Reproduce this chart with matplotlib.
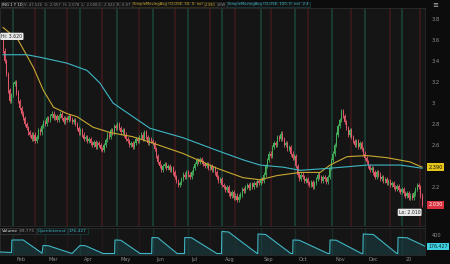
import matplotlib
matplotlib.use('Agg')
import matplotlib.pyplot as plt
import matplotlib.transforms as mtransforms
import numpy as np

# ---------------- data ----------------
first_open = 3.60
closes = [
    3.50, 3.40, 3.28, 3.12, 3.02, 3.08, 3.18, 3.20, 3.10, 3.02,
    2.95, 2.90, 2.86, 2.80, 2.76, 2.72, 2.70, 2.66, 2.70, 2.64,
    2.68, 2.74, 2.72, 2.78, 2.82, 2.80, 2.86, 2.84, 2.88, 2.90,
    2.86, 2.88, 2.84, 2.88, 2.90, 2.86, 2.82, 2.86, 2.84, 2.88,
    2.85, 2.82, 2.84, 2.80, 2.76, 2.72, 2.74, 2.70, 2.66, 2.68,
    2.64, 2.66, 2.62, 2.60, 2.63, 2.58, 2.62, 2.60, 2.56, 2.55,
    2.60, 2.65, 2.70, 2.68, 2.74, 2.72, 2.78, 2.76, 2.80, 2.76,
    2.72, 2.74, 2.70, 2.66, 2.64, 2.60, 2.62, 2.58, 2.62, 2.66,
    2.64, 2.68, 2.70, 2.66, 2.72, 2.68, 2.62, 2.66, 2.64, 2.62,
    2.56, 2.50, 2.44, 2.40, 2.36, 2.40, 2.42, 2.38, 2.40, 2.36,
    2.38, 2.34, 2.30, 2.26, 2.22, 2.24, 2.28, 2.32, 2.30, 2.34,
    2.32, 2.30, 2.34, 2.38, 2.42, 2.46, 2.44, 2.47, 2.44, 2.42,
    2.40, 2.42, 2.38, 2.40, 2.36, 2.38, 2.34, 2.30, 2.26, 2.28,
    2.22, 2.20, 2.17, 2.20, 2.14, 2.12, 2.15, 2.10, 2.12, 2.08,
    2.11, 2.13, 2.18, 2.16, 2.20, 2.22, 2.19, 2.23, 2.20, 2.24,
    2.22, 2.26, 2.24, 2.28, 2.26, 2.32, 2.40, 2.46, 2.52, 2.50,
    2.58, 2.62, 2.60, 2.68, 2.66, 2.71, 2.66, 2.60, 2.62, 2.56,
    2.58, 2.52, 2.48, 2.50, 2.40, 2.32, 2.28, 2.32, 2.30, 2.26,
    2.28, 2.24, 2.22, 2.25, 2.20, 2.24, 2.28, 2.32, 2.30, 2.26,
    2.30, 2.28, 2.25, 2.30, 2.38, 2.46, 2.52, 2.60, 2.70, 2.78,
    2.84, 2.92, 2.88, 2.82, 2.76, 2.70, 2.74, 2.68, 2.64, 2.60,
    2.64, 2.58, 2.62, 2.56, 2.52, 2.48, 2.44, 2.40, 2.36, 2.38,
    2.34, 2.30, 2.34, 2.32, 2.28, 2.30, 2.26, 2.28, 2.24, 2.26,
    2.22, 2.24, 2.20, 2.18, 2.21, 2.17, 2.15, 2.18, 2.14, 2.12,
    2.14, 2.10, 2.12, 2.10, 2.14, 2.18, 2.22, 2.20, 2.12, 2.03,
]
wick = 0.02

sma50_days = [0, 9, 18, 24, 30, 38, 44, 53.5, 63.6, 77, 87, 107, 127, 142.6,
              152.7, 162.8, 176.5, 188.4, 194.3, 204.4, 216.3, 228.2, 241.8, 249]
sma50_vals = [3.72, 3.60, 3.34, 3.12, 2.96, 2.90, 2.87, 2.77, 2.72, 2.68, 2.63, 2.52,
              2.38, 2.29, 2.27, 2.31, 2.34, 2.34, 2.41, 2.49, 2.50, 2.48, 2.44, 2.39]

sma100_days = [0, 14.3, 23.8, 38, 50, 57.6, 65.4, 77.2, 87.3, 107, 127, 142.6,
               152.7, 166.4, 176.5, 194.3, 216.3, 236, 249]
sma100_vals = [3.46, 3.46, 3.43, 3.38, 3.31, 3.19, 3.00, 2.87, 2.76, 2.67, 2.55,
               2.46, 2.41, 2.39, 2.36, 2.38, 2.41, 2.41, 2.38]

month_days = [6, 25, 46, 68, 89, 110, 130, 153, 173.5, 195.5, 215, 237]
month_labels = ['Feb', 'Mar', 'Apr', 'May', 'Jun', 'Jul', 'Aug', 'Sep', 'Oct',
                'Nov', 'Dec', '20']
expiry_days = [19, 38, 59, 81, 102, 123, 138, 159, 181, 207, 230, 248]

oi_days = [-1.8, 5.0, 5.3, 12, 23.2, 23.8, 27, 41, 45.7, 49, 59.4, 66.3, 66.5, 70,
           81.4, 88.3, 88.5, 92, 103.4, 107.8, 108, 112, 127, 129.8, 130, 134,
           151, 151.3, 151.5, 156, 171, 172.1, 172.3, 176, 193, 194.1, 194.3, 198,
           213, 213.8, 214, 220, 234, 234.5, 234.7, 240, 250.7]
oi_vals = [60, 50, 300, 300, 35, 190, 185, 30, 190, 185, 30, 30, 300, 295,
           30, 30, 350, 345, 30, 30, 350, 345, 30, 30, 470, 460,
           30, 30, 420, 410, 30, 30, 300, 295, 30, 30, 300, 295,
           30, 30, 420, 410, 30, 30, 352, 345, 176]

price_ticks = [2.0, 2.2, 2.4, 2.6, 2.8, 3.0, 3.2, 3.4, 3.6, 3.8]
hidden_ticks = [2.0, 2.4]   # covered by the price tags in the original

header_items = [
    ('ING 1 Y 1D', 'white'),
    ('V: 47,526  O: 2.057  H: 2.078', 'grey'),
    ('L: 2.008', 'grey'),
    ('C: 2.022', 'grey'),
    ('R: 0.07', 'grey'),
    ('SimpleMovingAvg (CLOSE, 50, 0, no)', 'yellow'),
    ('2.390', 'yellow'),
    ('LKW', 'grey'),
    ('SimpleMovingAvg (CLOSE, 100, 0, no)  2.4', 'cyan'),
]

# ---------------- style ----------------
BG = '#151515'
FIG_BG = '#0c0c0c'
UP = '#45b05a'
DN = '#e2586a'
YEL = '#c8a832'
CYA = '#3fb6c4'
TXT = '#8e8e8e'

W, H = 450, 264
fig = plt.figure(figsize=(W / 100, H / 100), dpi=100, facecolor=FIG_BG)


def fx(px):
    return px / W


def fy(py):
    return 1 - py / H


ax = fig.add_axes([0, fy(226), fx(425), fy(8) - fy(226)], facecolor=BG)
axv = fig.add_axes([0, fy(255), fx(425), fy(228) - fy(255)], facecolor=BG)

n = len(closes)
days = np.arange(n)
opens = [first_open] + closes[:-1]
o = np.array(opens)
c = np.array(closes)
hi = np.maximum(o, c) + wick
lo = np.minimum(o, c) - wick
up = c >= o
cols = np.where(up, UP, DN)

xmin, xmax = -1.8, 250.7
for a in (ax, axv):
    a.set_xlim(xmin, xmax)
    for sp in a.spines.values():
        sp.set_color('#2c2c2c')
        sp.set_linewidth(0.6)
    a.set_xticks([])

# vertical markers
for d in month_days:
    ax.axvline(d, color='#1d5a48', lw=1.3, alpha=0.6, zorder=1)
    axv.axvline(d, color='#1d4a40', lw=1.0, alpha=0.45, zorder=1)
for d in expiry_days:
    ax.axvline(d, color='#4a1a20', lw=1.3, alpha=0.7, zorder=1)
    axv.axvline(d, color='#3a1a1e', lw=1.0, alpha=0.45, zorder=1)

# candles
ax.vlines(days, lo, hi, colors=cols, lw=0.6, zorder=3)
body_h = np.maximum(np.abs(c - o), 0.006)
ax.bar(days, body_h, bottom=np.minimum(o, c), width=0.62, color=cols,
       linewidth=0, zorder=4)

# moving averages
ax.plot(sma50_days, sma50_vals, color=YEL, lw=0.8, zorder=5)
ax.plot(sma100_days, sma100_vals, color=CYA, lw=0.8, zorder=5)

ax.set_ylim(1.83, 3.905)
ax.yaxis.tick_right()
ax.set_yticks(price_ticks)
ax.set_yticklabels(['' if v in hidden_ticks else f'{v:g}' for v in price_ticks])
ax.tick_params(axis='y', length=0, pad=5, labelsize=3.8, labelcolor=TXT)

bt = mtransforms.blended_transform_factory(ax.transAxes, ax.transData)
ax.text(1.008, sma50_vals[-1], f'{sma50_vals[-1]:.3f}', transform=bt, fontsize=3.6,
        color='#111111', va='center', ha='left', clip_on=False, zorder=10,
        bbox=dict(boxstyle='square,pad=0.25', fc='#e6c619', ec='none'))
ax.text(1.008, closes[-1], f'{closes[-1]:.3f}', transform=bt, fontsize=3.6,
        color='white', va='center', ha='left', clip_on=False, zorder=10,
        bbox=dict(boxstyle='square,pad=0.25', fc='#d8323f', ec='none'))

# hi / lo bubbles
hi_i = int(np.argmax(hi))
lo_i = int(np.argmin(lo))
ax.text(xmin + 0.8, hi[hi_i] + 0.015, f'Hi: {hi[hi_i]:.3f}', fontsize=3.3,
        color='#222222', va='center', ha='left', zorder=10,
        bbox=dict(boxstyle='round,pad=0.25', fc='#e8e8e8', ec='none'))
ax.text(lo_i - 1, lo[lo_i] - 0.05, f'Lo: {lo[lo_i]:.3f}', fontsize=3.3,
        color='#222222', va='center', ha='right', zorder=10,
        bbox=dict(boxstyle='round,pad=0.25', fc='#e8e8e8', ec='none'))

# ---------------- volume / open interest panel ----------------
axv.fill_between(oi_days, 0, oi_vals, color='#1d5a62', alpha=0.35, lw=0, zorder=2)
axv.plot(oi_days, oi_vals, color=CYA, lw=0.8, zorder=4)
axv.set_ylim(0, 540)
axv.yaxis.tick_right()
axv.set_yticks([400])
axv.set_yticklabels(['400'])
axv.tick_params(axis='y', length=0, pad=5, labelsize=3.6, labelcolor=TXT)
btv = mtransforms.blended_transform_factory(axv.transAxes, axv.transData)
axv.text(1.008, oi_vals[-1], '176,427', transform=btv, fontsize=3.4, color='#0c2a30',
         va='center', ha='left', clip_on=False, zorder=10,
         bbox=dict(boxstyle='square,pad=0.25', fc='#3fd0e0', ec='none'))

bx = mtransforms.blended_transform_factory(axv.transData, fig.transFigure)
for d, lab in zip(month_days, month_labels):
    fig.text(d + 2, fy(259.5), lab, transform=bx, fontsize=3.6, color=TXT,
             va='center', ha='left')

renderer = fig.canvas.get_renderer()


def flow(items, x0, y, fs, colors, edges, gap):
    x = x0
    for txt, key in items:
        t = fig.text(fx(x), y, txt, fontsize=fs, color=colors[key], va='center',
                     ha='left', zorder=20,
                     bbox=dict(boxstyle='square,pad=0.25', fc='#141414',
                               ec=edges[key], lw=0.4))
        bb = t.get_window_extent(renderer)
        x += bb.width + gap


# volume panel header
vol_items = [('Volume', 'white'), ('69,775', 'grey'), ('OpenInterest', 'cyan'),
             ('176,427', 'cyan')]
colors = {'white': '#e6e6e6', 'grey': '#8a8a8a', 'yellow': YEL, 'cyan': CYA}
edges = {'white': '#4a4a4a', 'grey': '#333333', 'yellow': '#4a4020', 'cyan': '#1f4a50'}
flow(vol_items, 1.5, fy(231), 3.2, colors, edges, 2.5)

# top header
flow(header_items, 1.5, fy(4.5), 2.7, colors, edges, 2.2)
fig.text(fx(432), fy(5), '\u2261', fontsize=5, color='#bbbbbb', va='center', ha='left')

fig.savefig('out.png', dpi=100, facecolor=FIG_BG)
